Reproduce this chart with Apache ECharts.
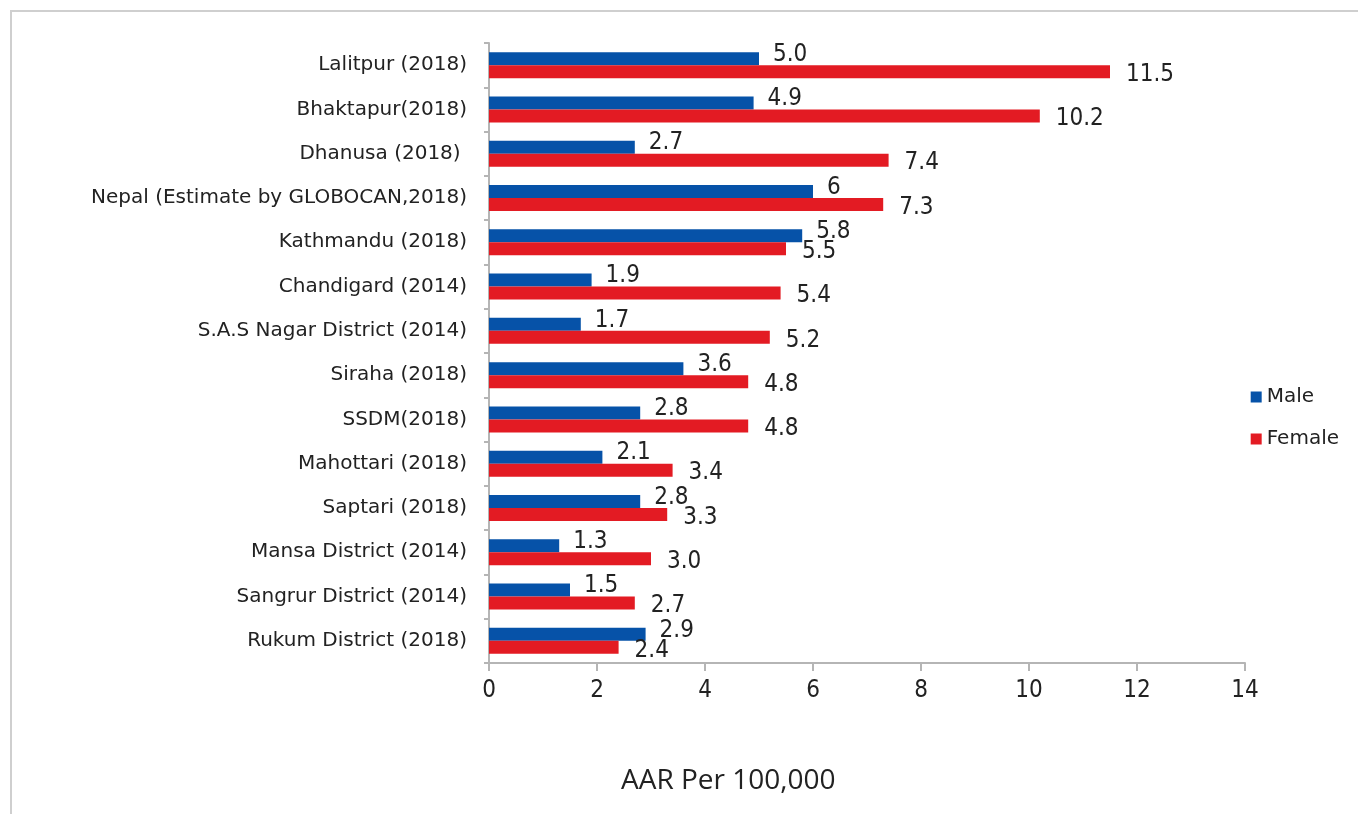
<!DOCTYPE html>
<html>
<head>
<meta charset="utf-8">
<script src="https://cdn.jsdelivr.net/npm/echarts@6/dist/echarts.min.js"></script>
<style>
  html, body { margin: 0; padding: 0; background: #fff; }
  #chart { width: 1358px; height: 814px; }
</style>
</head>
<body>
<div id="chart"></div>
<script>
// categories top -> bottom
const places = [
  "Lalitpur (2018)",
  "Bhaktapur(2018)",
  "Dhanusa (2018) ",
  "Nepal (Estimate by GLOBOCAN,2018)",
  "Kathmandu (2018)",
  "Chandigard (2014)",
  "S.A.S Nagar District (2014)",
  "Siraha (2018)",
  "SSDM(2018)",
  "Mahottari (2018)",
  "Saptari (2018)",
  "Mansa District (2014)",
  "Sangrur District (2014)",
  "Rukum District (2018)"
];
const maleVals = [5.0, 4.9, 2.7, 6, 5.8, 1.9, 1.7, 3.6, 2.8, 2.1, 2.8, 1.3, 1.5, 2.9];
const maleText = ["5.0", "4.9", "2.7", "6", "5.8", "1.9", "1.7", "3.6", "2.8", "2.1", "2.8", "1.3", "1.5", "2.9"];
const femaleVals = [11.5, 10.2, 7.4, 7.3, 5.5, 5.4, 5.2, 4.8, 4.8, 3.4, 3.3, 3.0, 2.7, 2.4];
const femaleText = ["11.5", "10.2", "7.4", "7.3", "5.5", "5.4", "5.2", "4.8", "4.8", "3.4", "3.3", "3.0", "2.7", "2.4"];
const xTicks = [0, 2, 4, 6, 8, 10, 12, 14];

var myChart = echarts.init(document.getElementById("chart"));

const numFont = "'Liberation Sans Narrow', 'DejaVu Sans Condensed', sans-serif";
const txtFont = "'DejaVu Sans', sans-serif";

const option = {
  animation: false,
  title: {
    text: "AAR Per 100,000",
    left: 616,
    top: 762,
    textStyle: { fontFamily: "'Open Sans', sans-serif", fontSize: 28, fontWeight: "normal", color: "#222" }
  },
  graphic: [
    {
      type: "rect",
      shape: { x: 11, y: 11, width: 1360, height: 820 },
      style: { fill: "none", stroke: "#cfcfcf", lineWidth: 2 }
    }
  ],
  grid: { left: 489, right: 113, top: 43, bottom: 151 },
  legend: {
    orient: "vertical",
    right: 14,
    top: 382,
    itemWidth: 11,
    itemHeight: 11,
    itemGap: 22,
    icon: "rect",
    textStyle: { fontFamily: txtFont, fontSize: 20, color: "#222" },
    data: ["Male", "Female"]
  },
  xAxis: {
    type: "value",
    min: 0,
    max: 14,
    interval: 2,
    axisLine: { show: true, lineStyle: { color: "#b5b5b5", width: 2 } },
    axisTick: { show: true, length: 8, lineStyle: { color: "#b5b5b5", width: 2 } },
    axisLabel: {
      margin: 16,
      fontFamily: numFont,
      fontSize: 24,
      color: "#222",
      formatter: function (v) { return xTicks.indexOf(v) >= 0 ? String(v) : ""; }
    },
    splitLine: { show: false }
  },
  yAxis: {
    type: "category",
    inverse: true,
    data: places,
    axisLine: { show: true, lineStyle: { color: "#b5b5b5", width: 2 } },
    axisTick: { show: true, length: 5, lineStyle: { color: "#b5b5b5", width: 2 } },
    axisLabel: { margin: 22, fontFamily: txtFont, fontSize: 20, color: "#222" }
  },
  series: [
    {
      name: "Male",
      type: "bar",
      data: maleVals,
      barWidth: 13,
      barGap: "0%",
      itemStyle: { color: "#0652a8" },
      label: {
        show: true,
        position: "right",
        distance: 14,
        offset: [0, -4],
        fontFamily: numFont,
        fontSize: 24,
        color: "#222",
        formatter: function (p) { return maleText[p.dataIndex]; }
      }
    },
    {
      name: "Female",
      type: "bar",
      data: femaleVals,
      barWidth: 13,
      barGap: "0%",
      itemStyle: { color: "#e31b23" },
      label: {
        show: true,
        position: "right",
        distance: 16,
        offset: [0, 3],
        fontFamily: numFont,
        fontSize: 24,
        color: "#222",
        formatter: function (p) { return femaleText[p.dataIndex]; }
      }
    }
  ]
};

myChart.setOption(option);
</script>
</body>
</html>
